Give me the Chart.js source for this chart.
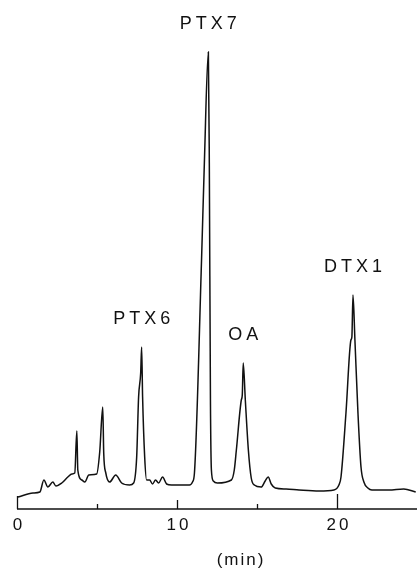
<!DOCTYPE html>
<html>
<head>
    <title>Chromatogram</title>
    <style>
        body {
            margin: 0;
            background: #ffffff;
        }
        #chart {
            display: block;
        }
    </style>
    <script src="https://cdn.jsdelivr.net/npm/chart.js"></script>
</head>
<body>
    <canvas id="chart" width="417" height="573"></canvas>
    <script>
        // retention time (min) and detector response (arbitrary units)
        const times = [
            0.06, 1.00, 1.43, 1.68, 1.93, 2.24, 2.43, 2.80, 3.18, 3.43,
            3.61, 3.74, 3.80, 4.05, 4.24, 4.49, 4.98, 5.17, 5.36, 5.42,
            5.55, 5.79, 6.17, 6.54, 7.04, 7.29, 7.48, 7.60, 7.73, 7.79,
            7.85, 7.98, 8.10, 8.29, 8.47, 8.66, 8.85, 9.10, 9.35, 9.66,
            10.78, 10.97, 11.09, 11.53, 11.71, 11.96, 12.02, 12.09, 12.15, 12.27,
            12.52, 13.40, 13.58, 13.71, 14.02, 14.08, 14.14, 14.27, 14.46, 14.64,
            14.83, 15.26, 15.51, 15.70, 15.89, 16.14, 16.82, 17.63, 18.88, 19.81,
            20.12, 20.25, 20.56, 20.87, 20.93, 21.00, 21.12, 21.31, 21.50, 21.68,
            21.93, 22.18, 23.24, 24.17, 24.92
        ];
        const signal = [
            12, 16, 17, 29, 22, 27, 23, 26, 32, 35,
            36, 78, 39, 29, 27, 34, 35, 57, 102, 56,
            36, 27, 34, 26, 24, 26, 52, 112, 136, 162,
            112, 52, 29, 29, 25, 29, 26, 32, 25, 24,
            24, 27, 36, 247, 346, 457, 346, 109, 39, 28,
            26, 29, 39, 59, 109, 114, 146, 109, 59, 31,
            24, 22, 28, 32, 25, 21, 20, 19, 18, 19,
            24, 32, 96, 169, 172, 214, 169, 96, 42, 27,
            21, 19, 19, 20, 17
        ];

        const tickValues = [0, 5, 10, 15, 20];
        const labelValues = [0, 10, 20];
        const axisTitle = '(min)';

        const peakNames = ['PTX6', 'PTX7', 'OA', 'DTX1'];
        const peakTimes = [7.79, 11.96, 14.14, 21.0];
        const peakHeights = [162, 457, 146, 214];

        const tickLengths = { 0: 13, 5: 5, 10: 9, 15: 5, 20: 15 };
        const ink = '#111111';

        const annotate = {
            id: 'annotate',
            afterDatasetsDraw(chart) {
                const ctx = chart.ctx;
                const xs = chart.scales.x;
                const ys = chart.scales.y;
                const y0 = ys.getPixelForValue(0);
                ctx.save();
                ctx.strokeStyle = ink;
                ctx.fillStyle = ink;

                // axis line
                ctx.lineWidth = 1.3;
                ctx.beginPath();
                ctx.moveTo(xs.getPixelForValue(0), y0);
                ctx.lineTo(chart.chartArea.right, y0);
                ctx.stroke();

                // upward ticks
                tickValues.forEach(v => {
                    const px = Math.round(xs.getPixelForValue(v)) + 0.5;
                    ctx.beginPath();
                    ctx.moveTo(px, y0);
                    ctx.lineTo(px, y0 - tickLengths[v]);
                    ctx.stroke();
                });

                // tick labels
                ctx.font = '17px "Liberation Sans", Arial, sans-serif';
                ctx.textAlign = 'center';
                ctx.textBaseline = 'middle';
                ctx.letterSpacing = '3px';
                labelValues.forEach(v => {
                    ctx.fillText(String(v), xs.getPixelForValue(v) + 2, y0 + 16);
                });

                // axis title
                ctx.letterSpacing = '2px';
                ctx.fillText(axisTitle, xs.getPixelForValue(14), y0 + 51);

                // peak names
                ctx.font = '18px "Liberation Sans", Arial, sans-serif';
                ctx.letterSpacing = '4px';
                ctx.textBaseline = 'bottom';
                peakNames.forEach((name, i) => {
                    const px = xs.getPixelForValue(peakTimes[i]) + 2;
                    const py = ys.getPixelForValue(peakHeights[i]) - 19;
                    ctx.fillText(name, px, py);
                });
                ctx.restore();
            }
        };

        new Chart(document.getElementById('chart').getContext('2d'), {
            type: 'line',
            data: {
                datasets: [{
                    data: times.map((t, i) => ({ x: t, y: signal[i] })),
                    borderColor: ink,
                    borderWidth: 1.5,
                    pointRadius: 0,
                    fill: false,
                    cubicInterpolationMode: 'monotone'
                }]
            },
            options: {
                responsive: false,
                animation: false,
                devicePixelRatio: 1,
                layout: {
                    padding: { left: 17, right: 0, top: 9, bottom: 64 }
                },
                scales: {
                    x: { type: 'linear', min: 0, max: 25, display: false },
                    y: { min: 0, max: 500, display: false }
                },
                plugins: {
                    legend: { display: false },
                    tooltip: { enabled: false }
                }
            },
            plugins: [annotate]
        });
    </script>
</body>
</html>
